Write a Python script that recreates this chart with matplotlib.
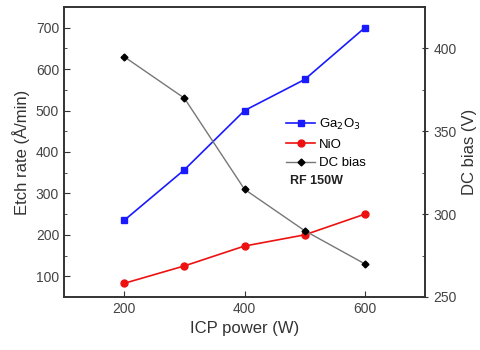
import matplotlib
matplotlib.use("Agg")
import matplotlib.pyplot as plt
from matplotlib.ticker import MultipleLocator

plt.rcParams['font.family'] = ['Liberation Sans', 'DejaVu Sans']

power = [200, 300, 400, 500, 600]
ga2o3 = [235, 357, 500, 575, 700]
nio = [83, 125, 173, 200, 250]
dc_bias = [395, 370, 315, 290, 270]

fig = plt.figure(figsize=(4.8, 3.5), dpi=100)
ax = fig.add_axes([64/480, 1-297/350, (425-64)/480, (297-7)/350])
ax2 = ax.twinx()

l1, = ax.plot(power, ga2o3, color='#1a1aff', marker='s', ms=4.5, lw=1.2, label='Ga$_2$O$_3$')
l2, = ax.plot(power, nio, color='#ee1111', marker='o', ms=5, lw=1.2, label='NiO')
l3, = ax2.plot(power, dc_bias, color='#777777', marker='D', mfc='black', mec='black', ms=3.5, lw=1.0, label='DC bias')

ax.set_xlim(100, 700)
ax.set_ylim(50, 750)
ax2.set_ylim(250, 425)
ax.set_xticks([200, 400, 600])
ax.yaxis.set_major_locator(MultipleLocator(100))
ax.yaxis.set_minor_locator(MultipleLocator(50))
ax2.yaxis.set_major_locator(MultipleLocator(50))
ax2.yaxis.set_minor_locator(MultipleLocator(25))

for a in (ax, ax2):
    for s in a.spines.values():
        s.set_linewidth(1.2)
        s.set_color('#333333')
ax.tick_params(axis='both', which='major', direction='in', length=4, labelsize=10, colors='#333333', labelcolor='#444444')
ax.tick_params(axis='y', which='minor', direction='in', length=2.5, colors='#333333')
ax2.tick_params(axis='y', which='major', direction='inout', length=5, labelsize=10, colors='#333333', labelcolor='#444444')
ax2.tick_params(axis='y', which='minor', direction='in', length=2.5, colors='#333333')

ax.set_xlabel('ICP power (W)', fontsize=12, color='#333333')
ax.set_ylabel('Etch rate (Å/min)', fontsize=12, color='#333333')
ax2.set_ylabel('DC bias (V)', fontsize=12, color='#333333')

leg = ax2.legend(handles=[l1, l2, l3], loc='upper left', bbox_to_anchor=(0.615, 0.622),
                 frameon=False, fontsize=9.5, handlelength=2.2, labelspacing=0.5,
                 handletextpad=0.3, borderaxespad=0, borderpad=0)
ax2.text(0.625, 0.40, 'RF 150W', transform=ax2.transAxes, fontsize=9, fontweight='bold',
         color='#222222', va='center')

fig.savefig('out.png', dpi=100)
